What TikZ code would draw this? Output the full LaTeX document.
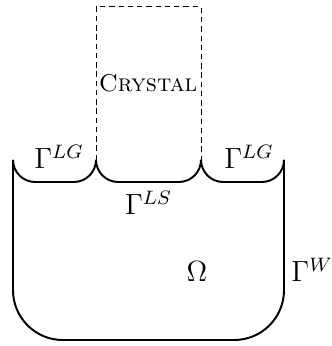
\documentclass[tikz,border=0pt]{standalone}
\usepackage{amsmath,amssymb}
\usepackage{tikz}
\usetikzlibrary{positioning}

\begin{document}
\begin{tikzpicture}[
          x=0.1445cm, y=0.1445cm,
          lbl/.style={inner sep=0pt, anchor=base, font=\large},
          wall/.style={draw, line width=0.8pt},
          seed/.style={draw, line width=0.4pt, dash pattern=on 2.2pt off 1.6pt}
      ]
        \useasboundingbox (0,0) rectangle (33.1,34.6);
        % crucible
        \draw[wall, rounded corners=7.2mm] (1.3,18.6) -- (1.3,0.6) -- (28.4,0.6) -- (28.4,18.6);
        \foreach \a/\b in {1.3/9.6, 9.6/20.1, 20.1/28.4}
          \draw[wall, rounded corners=3.2mm] (\a,18.6) -- (\a,16.4) -- (\b,16.4) -- (\b,18.6);
        % crystal
        \draw[seed] (9.6,18.6) -- (9.6,33.9) -- (20.1,33.9) -- (20.1,18.6);
        \node[lbl, font=\normalsize] (crystal) at (14.8,25.4) {\textsc{Crystal}};
        \node[lbl] (lgleft) at (5.9,17.7) {$\Gamma^{LG}$};
        \node[lbl] (lgright) at (24.9,17.7) {$\Gamma^{LG}$};
        \node[lbl] (ls) at (14.85,13.1) {$\Gamma^{LS}$};
        \node[lbl] (omega) at (19.7,6.4) {$\Omega$};
        \node[lbl, anchor=base west] (wallw) at (29.1,6.4) {$\Gamma^{W}$};
      \end{tikzpicture}
\end{document}
